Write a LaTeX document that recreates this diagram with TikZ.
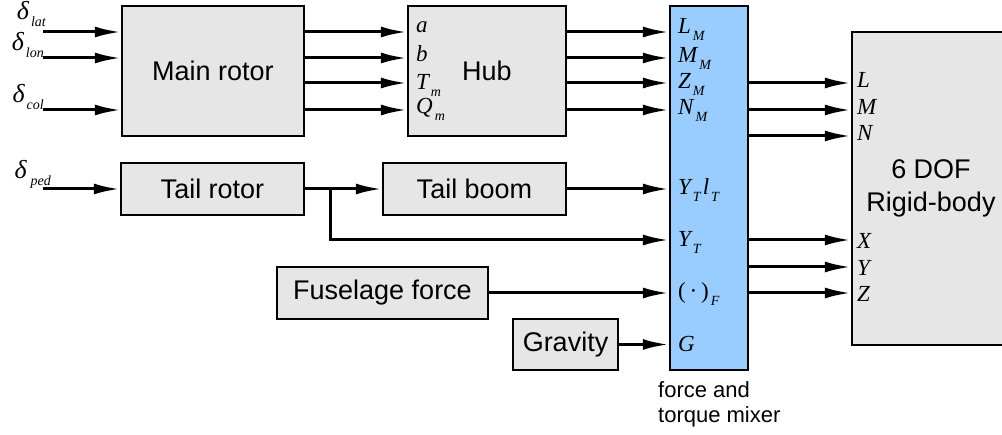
\documentclass[tikz,border=0pt]{standalone}
\usepackage{fontspec}
\setmainfont{Liberation Sans}
\newfontfamily\lblfont{Liberation Serif}
\usetikzlibrary{arrows.meta}
\definecolor{boxgray}{HTML}{E6E6E6}
\definecolor{mixblue}{HTML}{99CCFF}
% italic label with lowered subscript
\newcommand\lb[2]{#1\hspace{2pt}\raisebox{-0.3em}{\fontsize{14}{14}\selectfont #2}}

\begin{document}
\begin{tikzpicture}[
      x=1pt, y=-1pt,
      blk/.style={rectangle, draw=black, line width=2.5pt, fill=boxgray,
                  inner sep=0pt, align=center, font=\fontsize{27}{33}\selectfont},
      mixer/.style={blk, fill=mixblue},
      sig/.style={inner sep=0pt, font=\lblfont\itshape\fontsize{23}{26}\selectfont},
      arr/.style={-{Latex[length=26pt, width=11pt]}, line width=3pt}
    ]
    \clip (0,0) rectangle (1002,435);
    % blocks
    \node[blk, minimum width=182pt, minimum height=130pt] (mr)   at (213,71)    {Main rotor};
    \node[blk, minimum width=158pt, minimum height=130pt] (hub)  at (487,71)    {Hub};
    \node[mixer, minimum width=78pt, minimum height=364pt] (mix) at (709,188)   {};
    \node[blk, minimum width=158pt, minimum height=313pt] (dof)  at (931,188.5) {6 DOF\\Rigid-body};
    \node[blk, minimum width=183pt, minimum height=52pt]  (tr)   at (212.5,189) {Tail rotor};
    \node[blk, minimum width=183pt, minimum height=52pt]  (tb)   at (474.5,189) {Tail boom};
    \node[blk, minimum width=211pt, minimum height=52pt]  (fus)  at (382.5,293) {Fuselage force};
    \node[blk, minimum width=105pt, minimum height=51pt]  (grav) at (565.5,344.5) {Gravity};
    \node[anchor=west, align=left, inner sep=0pt, font=\fontsize{22}{25}\selectfont]
         (mixlbl) at (658,404.5) {force and\\torque mixer};
    % pilot inputs
    \coordinate (lat) at (43,32);
    \coordinate (lon) at (43,58);
    \coordinate (col) at (43,110);
    \coordinate (ped) at (43,189);
    \node[sig, anchor=base east] (dlat) at (46,20)  {{\fontsize{26}{26}\selectfont δ}\lb{}{lat}};
    \node[sig, anchor=base east] (dlon) at (44,51)  {{\fontsize{26}{26}\selectfont δ}\lb{}{lon}};
    \node[sig, anchor=base east] (dcol) at (44,103) {{\fontsize{26}{26}\selectfont δ}\lb{}{col}};
    \node[sig, anchor=base east] (dped) at (51,179) {{\fontsize{26}{26}\selectfont δ}\lb{\hspace{2pt}}{ped}};
    \draw[arr] (lat) -- (mr.west |- lat);
    \draw[arr] (lon) -- (mr.west |- lon);
    \draw[arr] (col) -- (mr.west |- col);
    \draw[arr] (ped) -- (tr.west);
    % main rotor to hub
    \foreach \yy in {32,58,83,110}
      \draw[arr] (mr.east |- 0,\yy) -- (hub.west |- 0,\yy);
    \node[sig, anchor=base west] (ha) at (416,33)  {a};
    \node[sig, anchor=base west] (hb) at (416,62)  {b};
    \node[sig, anchor=base west] (ht) at (416,90)  {\lb{T}{m}};
    \node[sig, anchor=base west] (hq) at (416,114) {\lb{Q}{m}};
    % hub to mixer
    \foreach \yy in {32,58,83,110}
      \draw[arr] (hub.east |- 0,\yy) -- (mix.west |- 0,\yy);
    % tail
    \coordinate (br) at (330,189);
    \draw[arr] (tr.east) -- (tb.west);
    \draw[arr] (br) |- (mix.west |- 0,240);
    \draw[arr] (tb.east) -- (mix.west |- tb.east);
    \draw[arr] (fus.east) -- (mix.west |- fus.east);
    \draw[arr] (grav.east) -- (mix.west |- grav.east);
    % mixer labels
    \node[sig, anchor=base west] (lm) at (678,34)  {\lb{L}{M}};
    \node[sig, anchor=base west] (mm) at (678,63)  {\lb{M}{M}};
    \node[sig, anchor=base west] (zm) at (678,89)  {\lb{Z}{M}};
    \node[sig, anchor=base west] (nm) at (678,115) {\lb{N}{M}};
    \node[sig, anchor=base west] (yl) at (678,195) {\lb{Y}{T}\hspace{2pt}\lb{l}{T}};
    \node[sig, anchor=base west] (yt) at (678,247) {\lb{Y}{T}};
    \node[sig, anchor=base west] (ff) at (678,299) {\lb{{\upshape(\,·\,)}}{F}};
    \node[sig, anchor=base west] (gg) at (678,352) {G};
    % mixer to rigid body
    \foreach \yy in {83,110,136,240,267,293}
      \draw[arr] (mix.east |- 0,\yy) -- (dof.west |- 0,\yy);
    \node[sig, anchor=base west] (bl) at (857,88)  {L};
    \node[sig, anchor=base west] (bm) at (857,115) {M};
    \node[sig, anchor=base west] (bn) at (857,141) {N};
    \node[sig, anchor=base west] (bx) at (857,249) {X};
    \node[sig, anchor=base west] (by) at (857,276) {Y};
    \node[sig, anchor=base west] (bz) at (857,302) {Z};
  \end{tikzpicture}
\end{document}
